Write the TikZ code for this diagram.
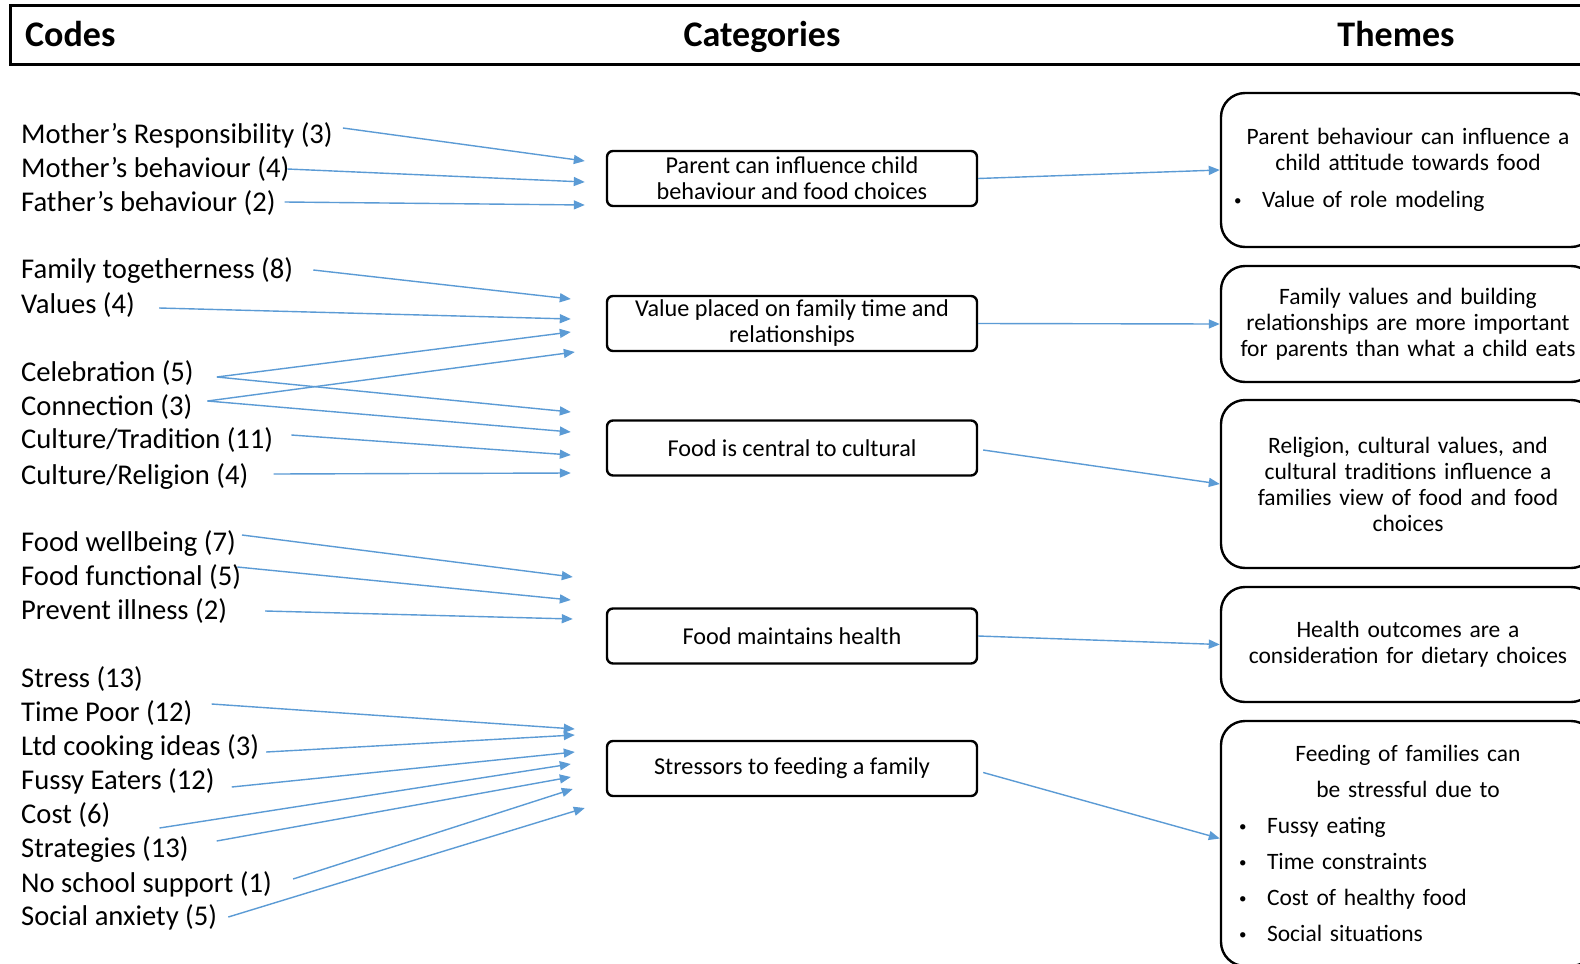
\documentclass[tikz,border=0pt]{standalone}
\usepackage{fontspec}
\setmainfont{Carlito}
\usetikzlibrary{positioning,arrows.meta,shapes}
\definecolor{arrowblue}{RGB}{91,155,213}
\tikzset{
>={Triangle[length=11pt,width=9pt]},
  codenode/.style={
    anchor=west,
    inner sep=0pt,
    font=\fontsize{28.6}{34}\selectfont},
  catbox/.style={
    rectangle,
    rounded corners=6pt,
    draw=black, line width=2.4pt,
    minimum width=370pt,
    minimum height=55pt,
    inner sep=2pt,
    align=center,
    font=\fontsize{24.2}{26}\selectfont},
  themebox/.style={
    rectangle,
    rounded corners=24pt,
    draw=black, line width=2.4pt,
    text width=350pt,
    inner xsep=12pt,
    align=center,
    font=\fontsize{23.5}{26}\selectfont},
  headtext/.style={font=\fontsize{36}{40}\selectfont\bfseries, inner sep=0pt, anchor=base},
  codearrow/.style={->, draw=arrowblue, line width=1.4pt},
}
\newcommand{\bulletline}[2]{{\raggedright\hspace*{#1}\makebox[28pt][l]{\raisebox{2pt}{\fontsize{15}{15}\selectfont\textbullet}}#2\par}}

\begin{document}
\begin{tikzpicture}[x=1pt,y=-1pt]
    \useasboundingbox (0,0) rectangle (1580,964);
    \fill[white] (0,0) rectangle (1580,964);
    \clip (0,0) rectangle (1580,964);

    % header row
    \node [draw=black, line width=2.6pt, minimum width=1640pt, minimum height=59pt,
           anchor=north west, inner sep=0pt](header) at (9,4){};
    \node [headtext, anchor=base west](codes) at (25,46){Codes};
    \node [headtext](categories) at (762,46){Categories};
    \node [headtext](themes) at (1396,46){Themes};

    % codes
    \node [codenode](mresp) at (21,135){Mother’s Responsibility (3)};
    \node [codenode](mbeh) at (21,169){Mother’s behaviour (4)};
    \node [codenode](fbeh) at (21,203){Father’s behaviour (2)};
    \node [codenode](famtog) at (21,270){Family togetherness (8)};
    \node [codenode](values) at (21,305){Values (4)};
    \node [codenode](celeb) at (21,373){Celebration (5)};
    \node [codenode](connect) at (21,407){Connection (3)};
    \node [codenode](culttrad) at (21,440){Culture/Tradition (11)};
    \node [codenode](cultrel) at (21,476){Culture/Religion (4)};
    \node [codenode](fwell) at (21,543){Food wellbeing (7)};
    \node [codenode](ffunc) at (21,577){Food functional (5)};
    \node [codenode](previll) at (21,611){Prevent illness (2)};
    \node [codenode](stress) at (21,679){Stress (13)};
    \node [codenode](timepoor) at (21,713){Time Poor (12)};
    \node [codenode](ltdcook) at (21,747){Ltd cooking ideas (3)};
    \node [codenode](fussy) at (21,781){Fussy Eaters (12)};
    \node [codenode](cost) at (21,815){Cost (6)};
    \node [codenode](strat) at (21,849){Strategies (13)};
    \node [codenode](noschool) at (21,884){No school support (1)};
    \node [codenode](socanx) at (21,917){Social anxiety (5)};

    % categories
    \node [catbox](parinf) at (792,178.5){Parent can influence child\\behaviour and food choices};
    \node [catbox](famtime) at (792,323.5){Value placed on family time and\\relationships};
    \node [catbox](cultural) at (792,448){Food is central to cultural};
    \node [catbox](health) at (792,636){Food maintains health};
    \node [catbox](stressors) at (792,768.5){Stressors to feeding a family};

    % themes
    \node [themebox, minimum height=154pt](rolemod) at (1408,170){Parent behaviour can influence a\\
          child attitude towards food\par\vspace{11pt}\bulletline{1pt}{Value of role modeling}};
    \node [themebox, minimum height=116pt](famval) at (1408,324){Family values and building\\
          relationships are more important\\for parents than what a child eats};
    \node [themebox, minimum height=168pt](religion) at (1408,484){Religion, cultural values, and\\
          cultural traditions influence a\\families view of food and food\\choices};
    \node [themebox, minimum height=115pt](outcomes) at (1408,644.5){Health outcomes are a\\
          consideration for dietary choices\par\vspace{6pt}};
    \node [themebox, minimum height=245pt, font=\fontsize{23.5}{36}\selectfont](feeding) at (1408,843.5){Feeding of families can\\
          be stressful due to\par
          \bulletline{6pt}{Fussy eating}
          \bulletline{6pt}{Time constraints}
          \bulletline{6pt}{Cost of healthy food}
          \bulletline{6pt}{Social situations}\vspace{10pt}};

    % codes to categories
    \draw[codearrow] ([shift={(10,-7)}]mresp.east) -- ([shift={(-21,-17.5)}]parinf.west);
    \draw[codearrow] ([shift={(-2,0)}]mbeh.east) -- ([shift={(-21,3.5)}]parinf.west);
    \draw[codearrow] ([shift={(9,-1)}]fbeh.east) -- ([shift={(-21,26.5)}]parinf.west);
    \draw[codearrow] ([shift={(20,0)}]famtog.east) -- ([shift={(-35,-24.5)}]famtime.west);
    \draw[codearrow] ([shift={(24,3)}]values.east) -- ([shift={(-35,-4.5)}]famtime.west);
    \draw[codearrow] ([shift={(23,4)}]celeb.east) -- ([shift={(-35,8.5)}]famtime.west);
    \draw[codearrow] ([shift={(15,-6)}]connect.east) -- ([shift={(-31,28.5)}]famtime.west);
    \draw[codearrow] ([shift={(23,4)}]celeb.east) -- ([shift={(-35,-36)}]cultural.west);
    \draw[codearrow] ([shift={(15,-6)}]connect.east) -- ([shift={(-35,-16)}]cultural.west);
    \draw[codearrow] ([shift={(18,-5)}]culttrad.east) -- ([shift={(-35,7)}]cultural.west);
    \draw[codearrow] ([shift={(25,-2)}]cultrel.east) -- ([shift={(-35,25)}]cultural.west);
    \draw[codearrow] ([shift={(6,-8)}]fwell.east) -- ([shift={(-33,-59)}]health.west);
    \draw[codearrow] ([shift={(-4,-10)}]ffunc.east) -- ([shift={(-35,-36)}]health.west);
    \draw[codearrow] ([shift={(38,0)}]previll.east) -- ([shift={(-33,-17)}]health.west);
    \draw[codearrow] ([shift={(19,-9)}]timepoor.east) -- ([shift={(-31,-39.5)}]stressors.west);
    \draw[codearrow] ([shift={(7,5)}]ltdcook.east) -- ([shift={(-31,-33.5)}]stressors.west);
    \draw[codearrow] ([shift={(17,6)}]fussy.east) -- ([shift={(-31,-16.5)}]stressors.west);
    \draw[codearrow] ([shift={(49,13)}]cost.east) -- ([shift={(-35,-4.5)}]stressors.west);
    \draw[codearrow] ([shift={(28,-8)}]strat.east) -- ([shift={(-35,8.5)}]stressors.west);
    \draw[codearrow] ([shift={(21,-5)}]noschool.east) -- ([shift={(-33,20.5)}]stressors.west);
    \draw[codearrow] ([shift={(11,0)}]socanx.east) -- ([shift={(-21,39.5)}]stressors.west);

    % categories to themes
    \draw[codearrow] (parinf.east) -- (rolemod.west);
    \draw[codearrow] (famtime.east) -- (famval.west);
    \draw[codearrow] ([shift={(5,2)}]cultural.east) -- (religion.west);
    \draw[codearrow] (health.east) -- (outcomes.west);
    \draw[codearrow] ([shift={(5,4)}]stressors.east) -- ([shift={(0,-5)}]feeding.west);

\end{tikzpicture}
\end{document}
